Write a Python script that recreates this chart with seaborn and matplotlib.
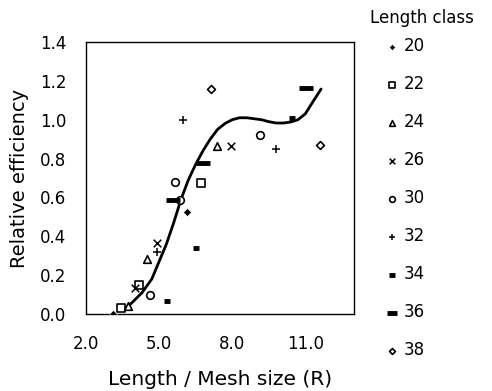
import numpy as np
import matplotlib
matplotlib.use("Agg")
import matplotlib.pyplot as plt
import seaborn as sns

# Observed relative efficiency by length class (x = length / mesh size)
classes = ["20", "22", "24", "26", "30", "32", "34", "36", "38"]
x_20 = [3.09, 6.15]
y_20 = [0.00, 0.525]
x_22 = [3.42, 4.16, 6.72]
y_22 = [0.03, 0.15, 0.672]
x_24 = [3.73, 4.52, 7.37]
y_24 = [0.04, 0.285, 0.867]
x_26 = [4.00, 4.91, 7.95]
y_26 = [0.133, 0.366, 0.867]
x_30 = [4.64, 5.67, 5.87, 9.13]
y_30 = [0.098, 0.677, 0.586, 0.919]
x_32 = [4.93, 6.00, 9.81]
y_32 = [0.318, 1.00, 0.847]
x_34 = [5.33, 6.53, 10.46]
y_34 = [0.069, 0.34, 1.011]
x_36 = [5.56, 6.80, 11.05]
y_36 = [0.586, 0.776, 1.161]
x_38 = [7.13, 11.62]
y_38 = [1.158, 0.871]

# fitted selection curve
curve_x = [3.55, 3.9, 4.3, 4.7, 5.0, 5.3, 5.6, 5.9, 6.2, 6.5, 6.8, 7.1, 7.4, 7.7,
           8.0, 8.3, 8.6, 8.9, 9.2, 9.5, 9.8, 10.1, 10.4, 10.7, 11.0, 11.3, 11.65]
curve_y = [0.02, 0.06, 0.11, 0.18, 0.27, 0.36, 0.47, 0.59, 0.69, 0.77, 0.84, 0.90,
           0.95, 0.98, 1.0, 1.01, 1.01, 1.005, 1.0, 0.99, 0.983, 0.983, 0.988, 1.0,
           1.03, 1.09, 1.158]

xs = [x_20, x_22, x_24, x_26, x_30, x_32, x_34, x_36, x_38]
ys = [y_20, y_22, y_24, y_26, y_30, y_32, y_34, y_36, y_38]

sns.set_style("white")
plt.rcParams['font.family'] = ['DejaVu Sans']
plt.rcParams['text.color'] = 'black'
plt.rcParams['axes.labelcolor'] = 'black'

fig = plt.figure(figsize=(4.92, 3.91), dpi=100)
ax = fig.add_axes([0.1748, 0.1969, 0.5447, 0.6957])

styles = {
    "20": dict(marker="D", s=16, color="black"),
    "22": dict(marker="s", s=28, facecolor="white", edgecolor="black", linewidth=1.2),
    "24": dict(marker="^", s=30, facecolor="white", edgecolor="black", linewidth=1.2),
    "26": dict(marker="x", s=30, color="black", linewidth=1.1),
    "30": dict(marker="o", s=30, facecolor="white", edgecolor="black", linewidth=1.2),
    "32": dict(marker="+", s=36, color="black", linewidth=1.1),
    "34": dict(marker="_", s=25, color="black", linewidth=3.5),
    "36": dict(marker="_", s=110, color="black", linewidth=3.5),
    "38": dict(marker="D", s=16, facecolor="white", edgecolor="black", linewidth=1.2),
}

for c, xv, yv in zip(classes, xs, ys):
    sns.scatterplot(x=xv, y=yv, ax=ax, label=c, zorder=3, **styles[c])

sns.lineplot(x=curve_x, y=curve_y, ax=ax, color="black", linewidth=2,
             sort=False, estimator=None, zorder=2)

ax.set_xlim(2, 13)
ax.set_ylim(0, 1.4)
ax.set_xticks([2, 5, 8, 11])
ax.set_xticklabels(["2.0", "5.0", "8.0", "11.0"])
ax.set_yticks(np.arange(0, 1.41, 0.2))
ax.set_yticklabels([f"{v:.1f}" for v in np.arange(0, 1.41, 0.2)])
ax.tick_params(labelsize=12, direction="in", length=3, width=0.6,
               color="#999999", labelcolor="black")
ax.tick_params(axis="x", pad=15)
ax.tick_params(axis="y", pad=14)
for sp in ax.spines.values():
    sp.set_color("black")
    sp.set_linewidth(1.0)

ax.set_xlabel("Length / Mesh size (R)", fontsize=14.5, labelpad=12)
ax.set_ylabel("Relative efficiency", fontsize=14, labelpad=8)

handles, labels = ax.get_legend_handles_labels()
ax.get_legend().remove()
fig.text(0.858, 0.954, "Length class", ha="center", va="center", fontsize=12)
fig.legend(handles, labels, loc="upper left",
           bbox_to_anchor=(0.75, 0.943), frameon=False, fontsize=12,
           labelspacing=1.2, handletextpad=0.2,
           handlelength=1.0, markerscale=0.75)

fig.savefig("out.png", dpi=100)
